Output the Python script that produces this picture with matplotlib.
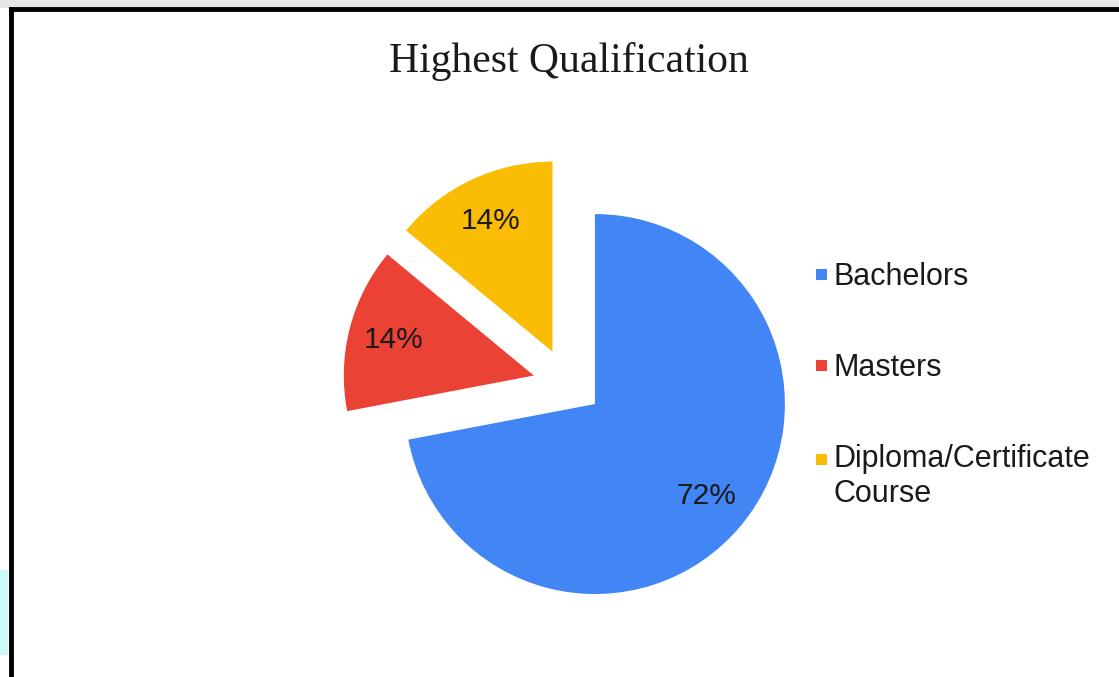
import numpy as np
import matplotlib.pyplot as plt
from matplotlib.lines import Line2D
from matplotlib.patches import Rectangle
from matplotlib.legend_handler import HandlerBase

# Data
labels = ['Bachelors', 'Masters', 'Diploma/Certificate\nCourse']
shares = [72, 14, 14]
colors = ['#4285F4', '#EA4335', '#FBBC04']
explode = [0, 0.355, 0.355]
# direction (deg) the exploded slices are pushed in, as seen in the reference
explode_dir = [0, 155, 129]


class SquareHandler(HandlerBase):
    # plain square legend key, optionally lifted to sit on the first text line
    def __init__(self, lift=0.0):
        super().__init__()
        self.lift = lift

    def legend_artist(self, legend, orig_handle, fontsize, handlebox):
        x0, y0 = -handlebox.xdescent, -handlebox.ydescent
        w, h = handlebox.width, handlebox.height
        s = 8.0
        rect = Rectangle((x0 + (w - s) / 2, y0 + (h - s) / 2 + self.lift * fontsize), s, s,
                         facecolor=orig_handle.get_facecolor(), edgecolor='none',
                         transform=handlebox.get_transform())
        handlebox.add_artist(rect)
        return rect


fig = plt.figure(figsize=(11.19, 6.77), dpi=100)
fig.patch.set_facecolor('white')

# pie axes placed so the centre sits where the reference has it
ax = fig.add_axes([0.26, -0.0458, 0.5433, 0.898])
wedges, texts, autotexts = ax.pie(
    shares, colors=colors, explode=explode, startangle=90, counterclock=False,
    autopct='%1.0f%%', pctdistance=0.76, radius=1.0,
    textprops={'family': 'Liberation Sans', 'fontsize': 21.5, 'color': '#1a1a1a'},
    wedgeprops={'linewidth': 0})

# push the exploded slices in the reference's direction instead of the mid-angle
for w, t, d, a in zip(wedges, autotexts, explode, explode_dir):
    if d == 0:
        continue
    cx, cy = w.center
    nx, ny = d * np.cos(np.radians(a)), d * np.sin(np.radians(a))
    w.set_center((nx, ny))
    x, y = t.get_position()
    t.set_position((x + nx - cx, y + ny - cy))

ax.set_xlim(-1.6, 1.6)
ax.set_ylim(-1.6, 1.6)
ax.set_aspect('equal')
ax.axis('off')

fig.text(0.508, 0.909, 'Highest Qualification', ha='center', va='center',
         family='Liberation Serif', fontsize=30, color='#1a1a1a')

handles = [Rectangle((0, 0), 1, 1, facecolor=c) for c in colors]
leg = fig.legend(handles, labels, loc='upper left', bbox_to_anchor=(0.7176, 0.6307),
                 frameon=False, handlelength=0.4, handletextpad=0.2, borderaxespad=0,
                 labelspacing=2.0, prop={'family': 'Liberation Sans', 'size': 22},
                 handler_map={handles[0]: SquareHandler(), handles[1]: SquareHandler(),
                              handles[2]: SquareHandler(lift=0.6)})
for t in leg.get_texts():
    t.set_color('#1a1a1a')

# frame of the cropped screenshot
fig.add_artist(Rectangle((0, 1 - 8 / 677), 1, 8 / 677, transform=fig.transFigure,
                         facecolor='#e6e6e6', edgecolor='none'))
fig.add_artist(Line2D([11 / 1119, 1], [1 - 9 / 677, 1 - 9 / 677],
                      transform=fig.transFigure, color='black', linewidth=3.5))
fig.add_artist(Line2D([11 / 1119, 11 / 1119], [0, 1 - 9 / 677],
                      transform=fig.transFigure, color='black', linewidth=3.5))
fig.add_artist(Rectangle((0, 22 / 677), 8 / 1119, 85 / 677, transform=fig.transFigure,
                         facecolor='#c9fbfb', edgecolor='none'))

fig.savefig('out.png', dpi=100)
